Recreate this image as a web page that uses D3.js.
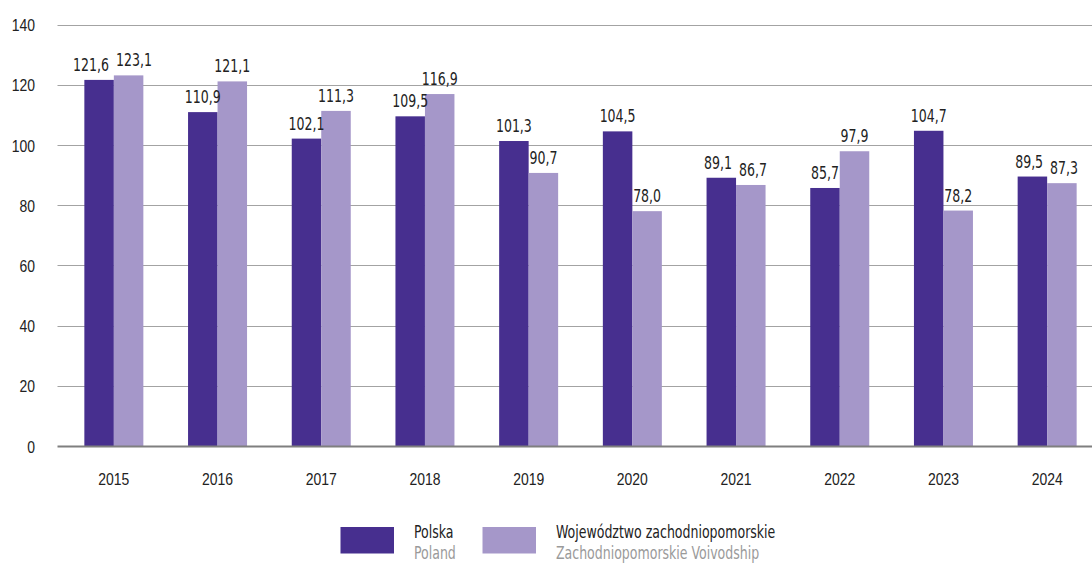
<!DOCTYPE html>
<html>
<head>
<meta charset="utf-8">
<script src="https://cdn.jsdelivr.net/npm/d3@7"></script>
<style>
  html, body { margin: 0; padding: 0; background: #fff; }
  svg { display: block; font-family: "DejaVu Sans Condensed", "Liberation Sans Narrow", "Arial Narrow", sans-serif; }
</style>
</head>
<body>
<svg id="chart" width="1092" height="564"></svg>
<script>
// Index values by year: Poland vs. Zachodniopomorskie Voivodship
const years = ["2015", "2016", "2017", "2018", "2019", "2020", "2021", "2022", "2023", "2024"];
const polska = [121.6, 110.9, 102.1, 109.5, 101.3, 104.5, 89.1, 85.7, 104.7, 89.5];
const wojewodztwo = [123.1, 121.1, 111.3, 116.9, 90.7, 78.0, 86.7, 97.9, 78.2, 87.3];
const yTicks = [0, 20, 40, 60, 80, 100, 120, 140];
const seriesNames = ["Polska", "Województwo zachodniopomorskie"];
const seriesNamesEn = ["Poland", "Zachodniopomorskie Voivodship"];
const colors = ["#472f8f", "#a597c9"];

const FONT = 17;
const SQUEEZE = 0.82; // horizontal condensing of all labels

const svg = d3.select("#chart");
const fmt = v => v.toFixed(1).replace(".", ",");

const y = d3.scaleLinear().domain([0, 140]).range([446, 24.5]);
const x0 = d3.scaleBand().domain(years).range([62, 1099]);
const x1 = d3.scaleBand().domain([0, 1]).range([x0.bandwidth() / 2 - 29.5, x0.bandwidth() / 2 + 29.5]);

function squeeze(sel) {
  sel.each(function () {
    const w = this.getComputedTextLength();
    this.__w = w * SQUEEZE;
    this.setAttribute("textLength", w * SQUEEZE);
    this.setAttribute("lengthAdjust", "spacingAndGlyphs");
  });
}

// Gridlines and y-axis labels
const yAxis = d3.axisLeft(y).tickValues(yTicks).tickSize(0).tickPadding(0);
const gy = svg.append("g").attr("transform", "translate(35,0)").call(yAxis);
gy.select(".domain").remove();
gy.selectAll("text").attr("font-size", FONT).attr("font-family", null).attr("fill", "#222").attr("dy", "0.36em");
squeeze(gy.selectAll("text"));

svg.append("g").selectAll("line")
  .data(yTicks.filter(t => t > 0))
  .join("line")
  .attr("x1", 57.5).attr("x2", 1092)
  .attr("y1", d => Math.round(y(d)) + 0.5).attr("y2", d => Math.round(y(d)) + 0.5)
  .attr("stroke", "#a3a3a3").attr("stroke-width", 1.2);

// Bars
const series = [polska, wojewodztwo];
const groups = svg.append("g").selectAll("g")
  .data(years)
  .join("g")
  .attr("transform", d => `translate(${x0(d)},0)`);

groups.selectAll("rect")
  .data((d, i) => series.map((s, k) => ({ k, v: s[i] })))
  .join("rect")
  .attr("x", d => x1(d.k))
  .attr("width", x1.bandwidth())
  .attr("y", d => y(d.v))
  .attr("height", d => y(0) - y(d.v))
  .attr("fill", d => colors[d.k]);

const labels = groups.selectAll("text.val")
  .data((d, i) => series.map((s, k) => ({ k, v: s[i] })))
  .join("text")
  .attr("class", "val")
  .attr("x", d => x1(d.k) + x1.bandwidth() / 2)
  .attr("y", d => y(d.v) - 9)
  .attr("text-anchor", "middle")
  .attr("font-size", FONT)
  .attr("fill", "#222")
  .text(d => fmt(d.v));
squeeze(labels);

// Push apart value labels of a pair when they would touch
groups.each(function () {
  const t = d3.select(this).selectAll("text.val").nodes();
  if (t.length < 2) return;
  const c0 = +t[0].getAttribute("x"), c1 = +t[1].getAttribute("x");
  const b0 = +t[0].getAttribute("y"), b1 = +t[1].getAttribute("y");
  if (Math.abs(b0 - b1) >= 15) return;
  const gap = (c1 - t[1].__w / 2) - (c0 + t[0].__w / 2);
  const minGap = 7;
  if (gap < minGap) {
    const need = minGap - gap;
    t[0].setAttribute("x", c0 - need * 0.6);
    t[1].setAttribute("x", c1 + need * 0.4);
  }
});

// Baseline
svg.append("line")
  .attr("x1", 57.5).attr("x2", 1092)
  .attr("y1", y(0) + 0.5).attr("y2", y(0) + 0.5)
  .attr("stroke", "#7f7f7f").attr("stroke-width", 2);

// X-axis labels
const xAxis = d3.axisBottom(x0).tickSize(0).tickPadding(0);
const gx = svg.append("g").attr("transform", "translate(0,485)").call(xAxis);
gx.select(".domain").remove();
gx.selectAll("text").attr("font-size", FONT).attr("font-family", null).attr("fill", "#222").attr("dy", 0);
squeeze(gx.selectAll("text"));

// Legend
const legendX = [340.5, 482.5];
const legend = svg.append("g").selectAll("g")
  .data(seriesNames)
  .join("g")
  .attr("transform", (d, i) => `translate(${legendX[i]},527)`);
legend.append("rect")
  .attr("width", 53.5).attr("height", 26.5)
  .attr("fill", (d, i) => colors[i]);
legend.append("text")
  .attr("x", 73.5).attr("y", 10.5)
  .attr("font-size", FONT).attr("fill", "#222")
  .text(d => d);
legend.append("text")
  .attr("x", 73.5).attr("y", 32)
  .attr("font-size", FONT).attr("fill", "#9a9a9a")
  .text((d, i) => seriesNamesEn[i]);
squeeze(legend.selectAll("text"));
</script>
</body>
</html>
